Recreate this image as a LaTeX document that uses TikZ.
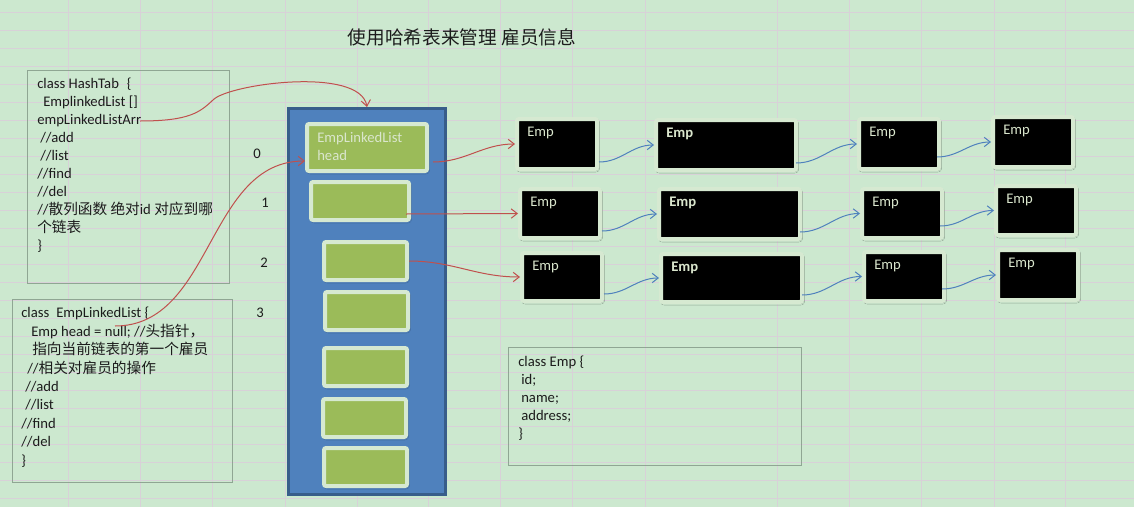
\documentclass[tikz,border=0pt]{standalone}
\usepackage{fontspec}
\setmainfont{Carlito}
\newfontfamily\cjk{Noto Sans CJK SC}
\usetikzlibrary{arrows.meta,positioning,calc,shadows.blur}

\newdimen\px \px=0.75pt

\definecolor{sheetbg}{RGB}{204,232,207}
\definecolor{gridln}{RGB}{216,209,216}
\definecolor{boxln}{RGB}{143,166,147}
\definecolor{tabblue}{RGB}{79,129,189}
\definecolor{tabedge}{RGB}{56,93,138}
\definecolor{slotgreen}{RGB}{155,187,89}
\definecolor{rimgreen}{RGB}{214,233,209}
\definecolor{lbltxt}{RGB}{218,230,205}
\definecolor{linkred}{RGB}{192,80,77}
\definecolor{txtdark}{RGB}{28,28,28}

\tikzset{
  gridline/.style={draw=gridln, line width=1\px},
  codebox/.style={rectangle, draw=boxln, line width=1\px, anchor=north west, inner sep=0pt},
  codetxt/.style={anchor=north west, inner sep=0pt, align=left, text=txtdark,
                  font=\fontsize{11}{13.5}\selectfont},
  numlbl/.style={inner sep=0pt, text=txtdark, font=\fontsize{11}{13.5}\selectfont},
  dims/.style 2 args={minimum width=#1\px, minimum height=#2\px},
  cellshadow/.style={blur shadow={shadow xshift=1\px, shadow yshift=-1.5\px,
                     shadow blur radius=1.5\px, shadow blur steps=3, shadow opacity=35}},
  slot/.style={rectangle, rounded corners=1.5pt, draw=rimgreen, fill=slotgreen,
               line width=4\px, anchor=north west, cellshadow},
  slotlbl/.style={anchor=north west, inner sep=0pt, align=left, text=lbltxt,
                  xshift=12\px, yshift=-10\px, font=\fontsize{11}{13.5}\selectfont},
  empcell/.style={rectangle, rounded corners=1.5pt, draw=rimgreen, fill=black,
                  line width=4\px, anchor=north west, cellshadow},
  emplbl/.style={anchor=north west, inner sep=0pt, text=lbltxt,
                 xshift=12\px, yshift=-10\px, font=\fontsize{11}{13.5}\selectfont},
  emp/.style={empcell, label={[emplbl]north west:Emp}},
  empbold/.style={empcell, label={[emplbl, font=\fontsize{11}{13.5}\selectfont\bfseries]north west:Emp}},
  redlink/.style={draw=linkred, line width=1\px, -{Straight Barb[length=4.5pt,width=7pt]}},
  bluelink/.style={draw=tabblue, line width=1\px, -{Straight Barb[length=4.5pt,width=7pt]}}
}

\begin{document}
\begin{tikzpicture}[x=1\px, y=-1\px]
  \useasboundingbox (0,0) rectangle (1134,507);
  \fill[sheetbg] (0,0) rectangle (1134,507);

  % spreadsheet grid
  \foreach \gx in {68,140,212,285,357,428,500,572,645,777,849,921,994,1065}
    \draw[gridline] (\gx,0) -- (\gx,507);
  \foreach \gy in {12,30,...,498}
    \draw[gridline] (0,\gy) -- (1134,\gy);

  \node[text=txtdark, inner sep=0pt, font=\cjk\fontsize{14}{16}\selectfont] (title) at (462,37) {使用哈希表来管理 雇员信息};

  % class boxes
  \node[codebox, dims={202}{213}] (hashtab) at (27,70) {};
  \node[codetxt, below right=8\px and 10\px of hashtab.north west] (hashtxt) {%
    class HashTab\hspace{8\px}\{\\
    \hspace*{6\px}EmplinkedList []\\
    empLinkedListArr\\
    \hspace*{3\px}//add\\
    \hspace*{3\px}//list\\
    //find\\
    //del\\
    //{\cjk 散列函数 绝对}id {\cjk 对应到哪}\\
    {\cjk 个链表}\\
    \}};
  \coordinate (arrsrc) at (140,121);

  \node[codebox, dims={220}{183}] (listbox) at (12,299) {};
  \node[codetxt, font=\fontsize{11}{13.8}\selectfont, below right=8\px and 9\px of listbox.north west] (listtxt) {%
    class\hspace{7\px}EmpLinkedList \{\\
    \hspace*{10\px}Emp head = null; //{\cjk 头指针，}\\
    \hspace*{11\px}{\cjk 指向当前链表的第一个雇员}\\
    \hspace*{6\px}//{\cjk 相关对雇员的操作}\\
    \hspace*{4\px}//add\\
    \hspace*{4\px}//list\\
    //find\\
    //del\\
    \}};
  \coordinate (nullsrc) at (115,326);

  \node[codebox, dims={293}{118}] (empbox) at (508,347) {};
  \node[codetxt, below right=9\px and 10\px of empbox.north west] (emptxt) {%
    class Emp \{\\
    \hspace*{3\px}id;\\
    \hspace*{3\px}name;\\
    \hspace*{3\px}address;\\
    \}};

  % index numbers
  \node[numlbl] (n0) at (257,154) {0};
  \node[numlbl] (n1) at (265,203) {1};
  \node[numlbl] (n2) at (264,263) {2};
  \node[numlbl] (n3) at (260,313) {3};

  % hash table array
  \node[rectangle, draw=tabedge, fill=tabblue, line width=3\px, anchor=north west,
        dims={157}{386}] (hashtbl) at (287,107) {};
  \node[slot, dims={120}{47}, label={[slotlbl]north west:{EmpLinkedList\\head}}] (s0) at (305,122) {};
  \node[slot, dims={98}{38}] (s1) at (309,180) {};
  \node[slot, dims={83}{38}] (s2) at (322,240) {};
  \node[slot, dims={83}{38}] (s3) at (323,290) {};
  \node[slot, dims={83}{38}] (s4) at (322,346) {};
  \node[slot, dims={83}{38}] (s5) at (321,397) {};
  \node[slot, dims={83}{38}] (s6) at (322,446) {};

  % employee nodes
  \node[emp, dims={80}{50}] (e00) at (515,117) {};
  \node[empbold, dims={140}{50}] (e01) at (654,118) {};
  \node[emp, dims={80}{50}] (e02) at (857,117) {};
  \node[emp, dims={80}{50}] (e03) at (991,115) {};
  \node[emp, dims={80}{49}] (e10) at (518,187) {};
  \node[empbold, dims={141}{50}] (e11) at (657,187) {};
  \node[emp, dims={80}{49}] (e12) at (860,187) {};
  \node[emp, dims={80}{49}] (e13) at (994,184) {};
  \node[emp, dims={80}{48}] (e20) at (520,251) {};
  \node[empbold, dims={141}{48}] (e21) at (659,252) {};
  \node[emp, dims={80}{49}] (e22) at (862,250) {};
  \node[emp, dims={80}{50}] (e23) at (996,248) {};

  % pointers
  \draw[redlink] (arrsrc) .. controls (190,121) and (200,112) .. (213,100)
                 .. controls (228,84) and (360,66) .. (hashtbl.north);
  \draw[redlink] (nullsrc) to[out=0, in=180] ($(s0.south west)+(0,-12)$);
  \draw[redlink] ($(s0.south east)+(4,-11)$) to[out=0, in=180] (e00.west);
  \draw[redlink] ($(s1.south east)+(-5,-8)$) -- (e10.west);
  \draw[redlink] (s2.east) to[out=0, in=180] (e20.west);

  \foreach \r in {0,1,2} {
    \draw[bluelink] ($(e\r0.south east)+(0,-9)$) to[out=0, in=180] (e\r1.west);
    \draw[bluelink] ($(e\r1.south east)+(-2,-9)$) to[out=0, in=180] (e\r2.west);
    \draw[bluelink] ($(e\r2.south east)+(-4,-14)$) to[out=0, in=180] (e\r3.west);
  }
\end{tikzpicture}
\end{document}
